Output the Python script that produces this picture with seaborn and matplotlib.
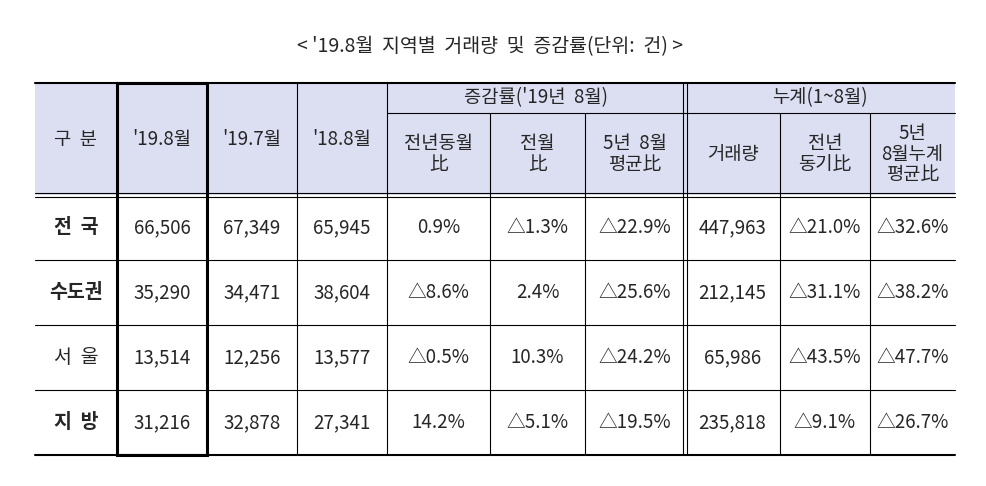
import matplotlib.pyplot as plt
import seaborn as sns

sns.set_theme(style="white")
plt.rcParams['font.family'] = ['Noto Sans CJK KR', 'DejaVu Sans']

TITLE = "< '19.8월  지역별  거래량  및  증감률(단위:  건) >"
ROW_LABELS = ["전  국", "수도권", "서  울", "지  방"]
BOLD_ROWS = [True, True, False, True]
COL_HEAD = ["구  분", "'19.8월", "'19.7월", "'18.8월"]
GROUP_HEAD = ["증감률('19년  8월)", "누계(1~8월)"]
SUB_HEAD = ["전년동월\n比", "전월\n比", "5년  8월\n평균比",
            "거래량", "전년\n동기比", "5년\n8월누계\n평균比"]
VALUES = [
    ["66,506", "67,349", "65,945", "0.9%", "△1.3%", "△22.9%", "447,963", "△21.0%", "△32.6%"],
    ["35,290", "34,471", "38,604", "△8.6%", "2.4%", "△25.6%", "212,145", "△31.1%", "△38.2%"],
    ["13,514", "12,256", "13,577", "△0.5%", "10.3%", "△24.2%", "65,986", "△43.5%", "△47.7%"],
    ["31,216", "32,878", "27,341", "14.2%", "△5.1%", "△19.5%", "235,818", "△9.1%", "△26.7%"],
]

# layout (pixels)
XS = [35, 117, 207, 297, 387, 490, 585, 685, 780, 870, 955]
Y_TOP, Y_MID, Y_HEAD = 83, 113, 195
ROW_H = 65
HEAD_BG = "#dcdff2"
FS = 13.5

fig = plt.figure(figsize=(9.87, 4.86), dpi=100)
ax = fig.add_axes([0, 0, 1, 1])
ax.set_xlim(0, 987)
ax.set_ylim(486, 0)
ax.axis("off")

ax.text(490, 47, TITLE, ha="center", va="center", fontsize=14)

y_bot = Y_HEAD + ROW_H * len(VALUES)
ax.add_patch(plt.Rectangle((XS[0], Y_TOP), XS[-1] - XS[0], Y_HEAD - Y_TOP,
                           color=HEAD_BG, lw=0, zorder=0))

# header text
for i, t in enumerate(COL_HEAD):
    ax.text((XS[i] + XS[i + 1]) / 2, (Y_TOP + Y_HEAD) / 2, t,
            ha="center", va="center", fontsize=FS)
for g, t in enumerate(GROUP_HEAD):
    x0, x1 = XS[4 + 3 * g], XS[7 + 3 * g]
    ax.text((x0 + x1) / 2, (Y_TOP + Y_MID) / 2, t, ha="center", va="center", fontsize=FS)
for j, t in enumerate(SUB_HEAD):
    ax.text((XS[4 + j] + XS[5 + j]) / 2, (Y_MID + Y_HEAD) / 2, t,
            ha="center", va="center", fontsize=FS, linespacing=0.95)

# body
for r, row in enumerate(VALUES):
    yc = Y_HEAD + ROW_H * (r + 0.5)
    ax.text((XS[0] + XS[1]) / 2, yc, ROW_LABELS[r], ha="center", va="center",
            fontsize=FS + 0.5, fontweight="bold" if BOLD_ROWS[r] else "normal")
    for c, v in enumerate(row):
        ax.text((XS[c + 1] + XS[c + 2]) / 2, yc, v, ha="center", va="center", fontsize=FS)

# lines
k = "black"
ax.plot([XS[0], XS[-1]], [Y_TOP, Y_TOP], color=k, lw=1.5)
ax.plot([XS[0], XS[-1]], [y_bot, y_bot], color=k, lw=1.5)
ax.plot([XS[4], XS[-1]], [Y_MID, Y_MID], color=k, lw=0.8)
ax.plot([XS[0], XS[-1]], [Y_HEAD - 2, Y_HEAD - 2], color=k, lw=0.8)
ax.plot([XS[0], XS[-1]], [Y_HEAD + 2, Y_HEAD + 2], color=k, lw=0.8)
for r in range(1, len(VALUES)):
    y = Y_HEAD + ROW_H * r
    ax.plot([XS[0], XS[-1]], [y, y], color=k, lw=0.8)
for i, x in enumerate(XS[1:-1], start=1):
    if i == 7:
        for dx in (-2, 2):
            ax.plot([x + dx, x + dx], [Y_TOP, y_bot], color=k, lw=0.8)
    elif i in (5, 6, 8, 9):
        ax.plot([x, x], [Y_MID, y_bot], color=k, lw=0.8)
    else:
        ax.plot([x, x], [Y_TOP, y_bot], color=k, lw=0.8)

# thick box around '19.8월 column
ax.add_patch(plt.Rectangle((XS[1], Y_TOP), XS[2] - XS[1], y_bot - Y_TOP,
                           fill=False, ec=k, lw=2.2, zorder=5))

fig.savefig("out.png", dpi=100)
